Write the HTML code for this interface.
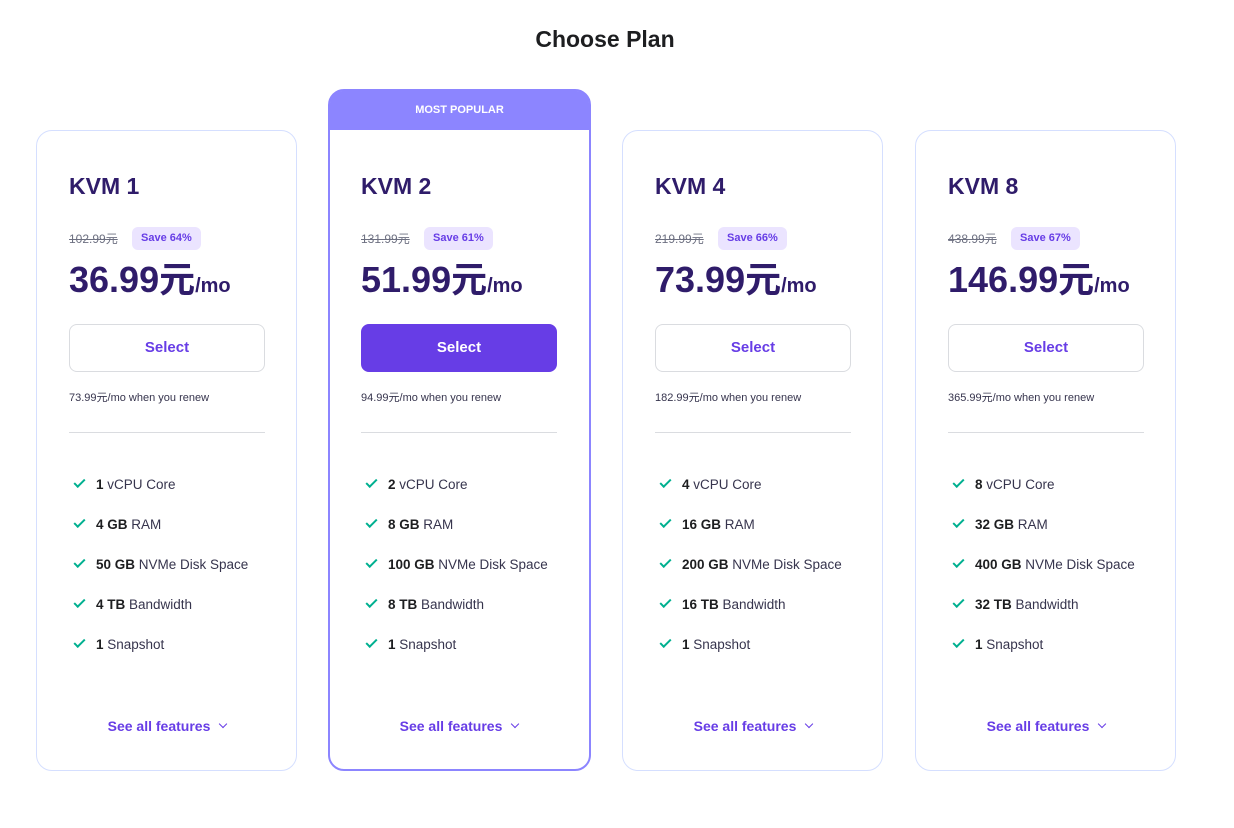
<!DOCTYPE html>
<html><head><meta charset="utf-8"><style>
*{box-sizing:border-box;margin:0;padding:0}
body{width:1234px;height:828px;background:#fff;font-family:"Liberation Sans","Noto Sans CJK SC",sans-serif;position:relative;overflow:hidden;color:#36344d}
h1{position:absolute;top:26px;left:0;width:1210px;text-align:center;font-size:23px;font-weight:bold;color:#1d1e20}
.card{position:absolute;top:130px;width:261px;height:641px;border:1px solid #d5dfff;border-radius:16px;background:#fff}
.card.pop{top:89px;height:682px;border:2px solid #8c85ff;width:263px}
.banner{position:absolute;left:0;top:0;right:0;height:39px;background:#8c85ff;color:#fff;font-size:11px;font-weight:bold;text-align:center;line-height:39px;border-radius:12px 12px 0 0}
.in{position:absolute;left:32px;top:0;width:196px}
.pop .in{left:31px;top:40px}
.t{position:absolute;top:42px;font-size:23px;font-weight:bold;color:#2f1c6a;white-space:nowrap}
.old{position:absolute;top:99px;font-size:12px;color:#6d7081;text-decoration:line-through}
.save{position:absolute;top:96px;left:63px;height:23px;padding:0 9px;border-radius:6px;background:#ebe4ff;color:#673de6;font-size:11px;font-weight:bold;line-height:23px}
.price{position:absolute;top:120px;font-size:36px;font-weight:bold;color:#2f1c6a;white-space:nowrap}
.price span{font-size:20px}
.btn{position:absolute;top:193px;left:0;width:196px;height:48px;border:1px solid #dadce0;border-radius:8px;color:#673de6;font-size:15px;font-weight:bold;text-align:center;line-height:46px;background:#fff}
.pop .btn{background:#673de6;color:#fff;border-color:#673de6}
.renew{position:absolute;top:258px;font-size:11px;color:#36344d;white-space:nowrap}
.hr{position:absolute;top:301px;left:0;width:196px;height:1px;background:#dadce0}
.f{position:absolute;left:4px;font-size:13.5px;white-space:nowrap;color:#36344d}
.f i{display:inline-block;width:11px;height:6px;border-left:2px solid #00b090;border-bottom:2px solid #00b090;transform:rotate(-45deg);margin:0 11px 4px 1px}
.f b{color:#1d1e20}
.see{position:absolute;top:587px;left:0;width:196px;text-align:center;font-size:14px;font-weight:bold;color:#673de6}
.see i{display:inline-block;width:6px;height:6px;border-right:1.5px solid #673de6;border-bottom:1.5px solid #673de6;transform:rotate(45deg);margin:0 0 4px 10px}
</style></head><body>
<h1>Choose Plan</h1>
<div id="root"></div>
<script>
const plans=["KVM 1","KVM 2","KVM 4","KVM 8"];
const oldP=["102.99元","131.99元","219.99元","438.99元"];
const saves=["Save 64%","Save 61%","Save 66%","Save 67%"];
const prices=["36.99元","51.99元","73.99元","146.99元"];
const renew=["73.99元","94.99元","182.99元","365.99元"];
const cpu=["1","2","4","8"],ram=["4 GB","8 GB","16 GB","32 GB"],disk=["50 GB","100 GB","200 GB","400 GB"],bw=["4 TB","8 TB","16 TB","32 TB"];
const lefts=[36,328,622,915];
const root=document.getElementById('root');
plans.forEach((p,i)=>{
const c=document.createElement('div');


c.className='card'+(i==1?' pop':'');
c.style.left=lefts[i]+'px';
const feats=[[cpu[i],' vCPU Core'],[ram[i],' RAM'],[disk[i],' NVMe Disk Space'],[bw[i],' Bandwidth'],['1',' Snapshot']];
let fh='';feats.forEach((f,k)=>{fh+=`<div class="f" style="top:${346+k*40}px"><i></i><b>${f[0]}</b>${f[1]}</div>`});
c.innerHTML=(i==1?'<div class="banner">MOST POPULAR</div>':'')+
`<div class="in">
<div class="t">${p}</div>
<div class="old">${oldP[i]}</div>
<div class="save">${saves[i]}</div>
<div class="price">${prices[i]}<span>/mo</span></div>
<div class="btn">Select</div>
<div class="renew">${renew[i]}/mo when you renew</div>
<div class="hr"></div>
${fh}
<div class="see">See all features<i></i></div>
</div>`;
root.appendChild(c);
});
</script>
</body></html>
